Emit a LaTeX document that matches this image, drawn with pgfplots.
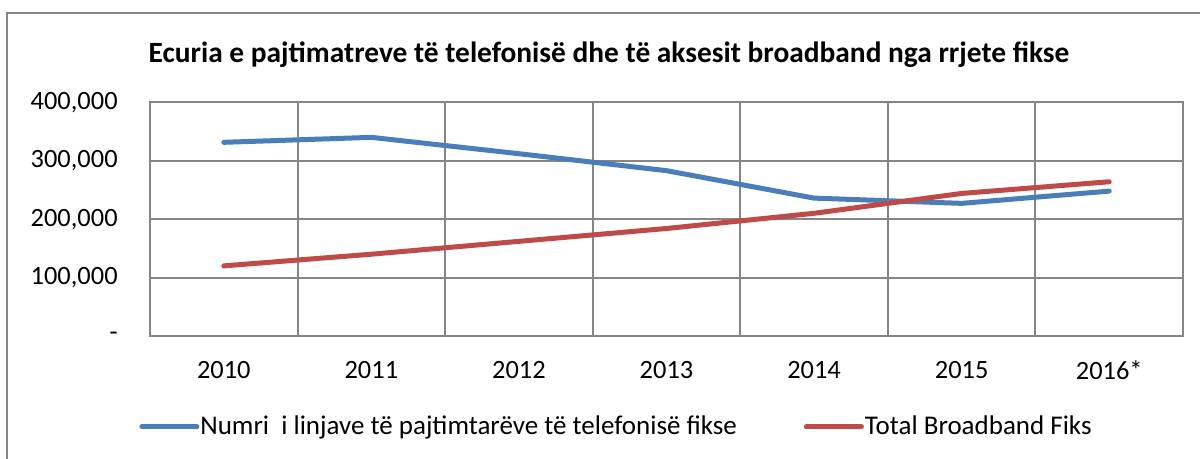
\documentclass[border=0pt]{standalone}
\usepackage{pgfplots}
\pgfplotsset{compat=1.18}
\usepackage{fontspec}
\setmainfont{Carlito}
\definecolor{lblue}{HTML}{4A7EBB}
\definecolor{lred}{HTML}{BE4B48}
\definecolor{gridg}{HTML}{868686}
\begin{document}
\begin{tikzpicture}
\useasboundingbox (0,0) rectangle (600pt,229.5pt);
\begin{scope}
\clip (0,0) rectangle (600pt,229.5pt);
\draw[gridg, line width=1pt] (3.5pt,-10pt) -- (3.5pt,223pt) -- (620pt,223pt);
\end{scope}
\node[font=\fontsize{14.7}{17}\selectfont\bfseries, anchor=center] at (304.5pt,202pt) {Ecuria e pajtimatreve të telefonisë dhe të aksesit broadband nga rrjete fikse};
\begin{axis}[
  at={(75pt,61.5pt)}, anchor=south west,
  scale only axis, width=516.5pt, height=116.85pt,
  xmin=-0.5, xmax=6.5, ymin=0, ymax=400000,
  xtick={0,...,6},
  xticklabels={2010,2011,2012,2013,2014,2015,2016*},
  minor xtick={0.5,1.5,...,5.5},
  ytick={0,100000,200000,300000,400000},
  yticklabels={{-},{100,000},{200,000},{300,000},{400,000}},
  major tick length=0pt, minor tick length=0pt,
  xminorgrids, ymajorgrids,
  grid style={gridg, line width=1pt},
  minor grid style={gridg, line width=1pt},
  axis line style={gridg, line width=1pt},
  ticklabel style={font=\fontsize{13.2}{15}\selectfont},
  yticklabel style={anchor=east, inner sep=0pt, xshift=-16pt},
  xticklabel style={anchor=center, inner sep=0pt, yshift=-17.25pt},
  scaled y ticks=false,
  legend columns=2,
  legend style={at={(-0.0107,-0.389)}, anchor=west, draw=none, fill=none, inner sep=0pt,
    font=\fontsize{13.5}{16}\selectfont, /tikz/every even column/.append style={column sep=33pt},
    nodes={inner sep=0.5pt}},
  legend image code/.code={\draw[#1] (0pt,0pt) -- (27.5pt,0pt);},
]
\addplot[lblue, line width=2.5pt, line cap=round] coordinates {(0,331500) (1,340000) (2,312000) (3,283000) (4,236000) (5,227000) (6,248000)};
\addlegendentry{Numri\ \ i linjave të pajtimtarëve të telefonisë fikse}
\addplot[lred, line width=2.5pt, line cap=round] coordinates {(0,120000) (1,140000) (2,162000) (3,184000) (4,210000) (5,244000) (6,264000)};
\addlegendentry{Total Broadband Fiks}
\end{axis}
\end{tikzpicture}
\end{document}
